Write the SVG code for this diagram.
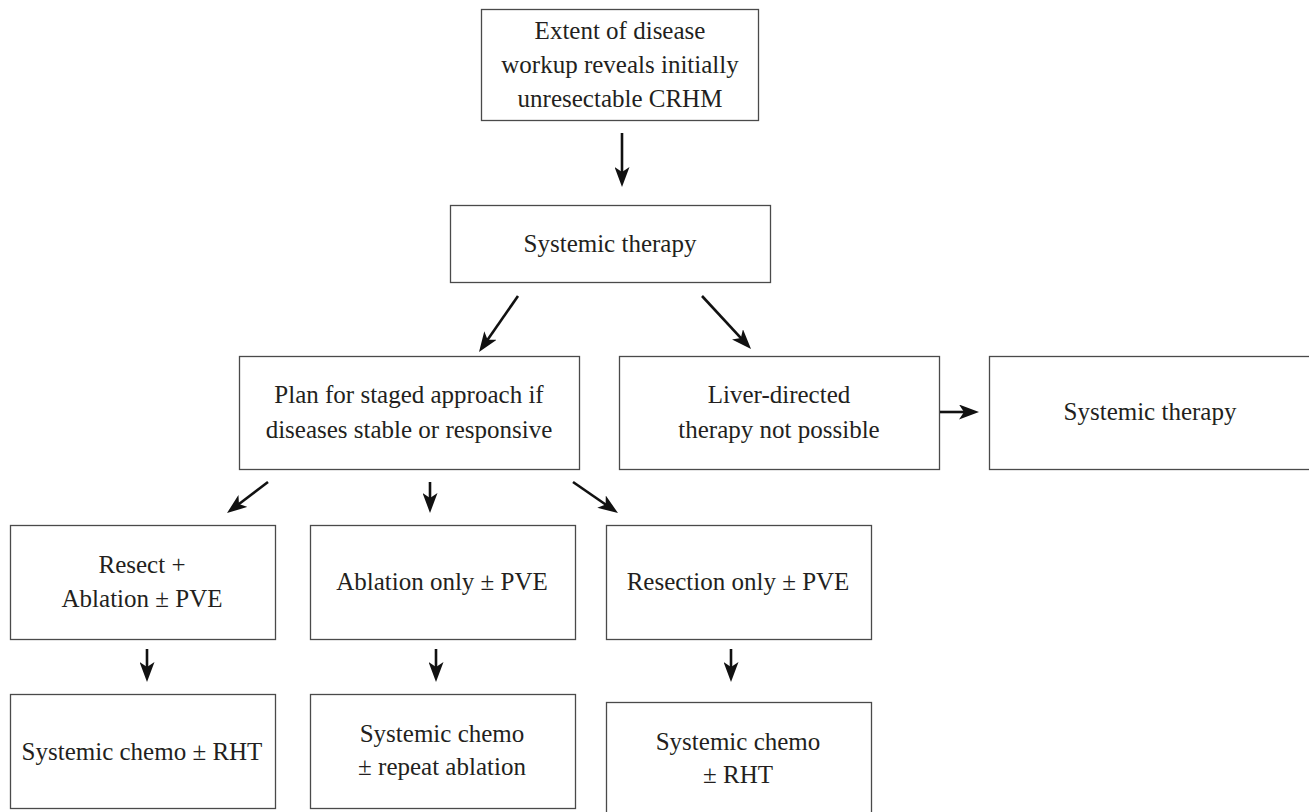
<svg xmlns="http://www.w3.org/2000/svg" width="1309" height="812" viewBox="0 0 1309 812">
<defs>
<style>
.box{fill:#fff;stroke:#4a4a4a;stroke-width:1.3}
.t{font-family:"Liberation Serif","Times New Roman",serif;font-size:25px;fill:#231f20;text-anchor:middle}
.c{stroke:#111;stroke-width:2.6;fill:none;marker-end:url(#ah)}
</style>
<marker id="ah" markerUnits="userSpaceOnUse" markerWidth="20" markerHeight="15" refX="12" refY="7.5" orient="auto" viewBox="0 0 20 15">
<path d="M0,0 L20,7.5 L0,15 L5,7.5 z" fill="#111"/>
</marker>
</defs>
<rect width="1309" height="812" fill="#fff"/>
<g id="n1"><rect class="box" x="481.5" y="9.5" width="277" height="111"/>
<text class="t" x="620" y="39">Extent of disease</text>
<text class="t" x="620" y="73">workup reveals initially</text>
<text class="t" x="620" y="107">unresectable CRHM</text></g>
<g id="n2"><rect class="box" x="450.5" y="205.5" width="320" height="77"/>
<text class="t" x="610" y="252">Systemic therapy</text></g>
<g id="n3"><rect class="box" x="239.5" y="356.5" width="340" height="113"/>
<text class="t" x="409" y="403">Plan for staged approach if</text>
<text class="t" x="409" y="438">diseases stable or responsive</text></g>
<g id="n4"><rect class="box" x="619.5" y="356.5" width="320" height="113"/>
<text class="t" x="779" y="403">Liver-directed</text>
<text class="t" x="779" y="438">therapy not possible</text></g>
<g id="n5"><rect class="box" x="989.5" y="356.5" width="322" height="113"/>
<text class="t" x="1150" y="420">Systemic therapy</text></g>
<g id="n6"><rect class="box" x="10.5" y="525.5" width="265" height="114"/>
<text class="t" x="142" y="573">Resect +</text>
<text class="t" x="142" y="607">Ablation ± PVE</text></g>
<g id="n7"><rect class="box" x="310.5" y="525.5" width="265" height="114"/>
<text class="t" x="442" y="590">Ablation only ± PVE</text></g>
<g id="n8"><rect class="box" x="606.5" y="525.5" width="265" height="114"/>
<text class="t" x="738" y="590">Resection only ± PVE</text></g>
<g id="n9"><rect class="box" x="10.5" y="694.5" width="265" height="114"/>
<text class="t" x="142" y="760">Systemic chemo ± RHT</text></g>
<g id="n10"><rect class="box" x="310.5" y="694.5" width="265" height="114"/>
<text class="t" x="442" y="742">Systemic chemo</text>
<text class="t" x="442" y="775">± repeat ablation</text></g>
<g id="n11"><rect class="box" x="606.5" y="702.5" width="265" height="114"/>
<text class="t" x="738" y="750">Systemic chemo</text>
<text class="t" x="738" y="783">± RHT</text></g>
<g id="connectors">
<line class="c" x1="622" y1="133" x2="622" y2="179"/>
<line class="c" x1="518" y1="296" x2="483.6" y2="345.4"/>
<line class="c" x1="702" y1="296" x2="745.6" y2="343.1"/>
<line class="c" x1="940" y1="412" x2="971" y2="412"/>
<line class="c" x1="268" y1="482" x2="233.4" y2="508.2"/>
<line class="c" x1="430" y1="482" x2="430" y2="505"/>
<line class="c" x1="573" y1="482" x2="611.4" y2="508.5"/>
<line class="c" x1="147" y1="649" x2="147" y2="674"/>
<line class="c" x1="436" y1="649" x2="436" y2="674"/>
<line class="c" x1="731" y1="649" x2="731" y2="674"/>
</g>
</svg>
